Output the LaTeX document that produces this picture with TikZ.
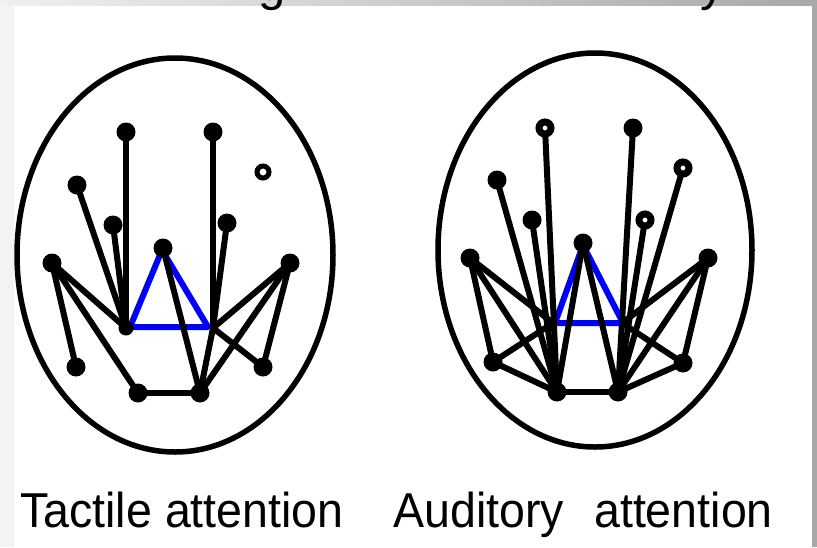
\documentclass[tikz,border=0pt]{standalone}
\usepackage{fontspec}
\setmainfont{Liberation Sans}
\definecolor{frameL}{HTML}{F3F3F3}
\definecolor{frameTL}{HTML}{F0F0F0}
\definecolor{frameTR}{HTML}{A8A8A8}
\definecolor{pureblue}{HTML}{0000FF}
\begin{document}
\begin{tikzpicture}[x=1pt,y=-1pt,
 edge/.style={line width=6pt, line cap=round, line join=round},
 tri/.style={draw=pureblue, line width=6pt, line join=round},
 dot/.style={circle, fill=black, inner sep=0pt, minimum size=19pt},
 sdot/.style={circle, fill=black, inner sep=0pt, minimum size=15pt},
 hdot/.style={circle, draw=black, fill=white, line width=7pt, inner sep=0pt, minimum size=12pt},
 ring/.style={circle, draw=black, fill=white, line width=5pt, inner sep=0pt, minimum size=12pt},
 head/.style={draw=black, line width=5.5pt},
 lbl/.style={font=\fontsize{49}{55}\selectfont, inner sep=0pt, anchor=base west}]
\useasboundingbox (0,0) rectangle (817,547);
\fill[white] (0,0) rectangle (817,547);
\fill[frameL] (0,0) rectangle (14,547);
\shade[left color=frameTL, right color=frameTR] (0,0) rectangle (817,5);
\fill[frameTR] (812,0) rectangle (817,547);
% clipped title descenders
\begin{scope}
\clip (0,0) rectangle (817,547);
\node[lbl] (tg) at (258,0) {g};
\node[lbl] (ty) at (700,0) {y};
\end{scope}

% ===== left head =====
\draw[head] (175,255) ellipse [x radius=158pt, y radius=197pt];
\coordinate (LA1) at (126,132);
\coordinate (LA2) at (213,132);
\coordinate (LB) at (77,185);
\coordinate (LC) at (113,225);
\coordinate (LD) at (227,223);
\coordinate (LE) at (163,248);
\coordinate (LF) at (52,263);
\coordinate (LG) at (290,263);
\coordinate (LH) at (126,328);
\coordinate (LI) at (213,328);
\coordinate (LJ) at (76,367);
\coordinate (LK) at (263,367);
\coordinate (LL) at (138,393);
\coordinate (LM) at (200,393);
\coordinate (LT1) at (162,250);
\coordinate (LT2) at (130,327);
\coordinate (LT3) at (208,327);
\draw[tri] (LT1) -- (LT2) -- (LT3) -- cycle;
\draw[edge] (LA1) -- (LH);
\draw[edge] (LB) -- (LH);
\draw[edge] (LC) -- (LH);
\draw[edge] (LF) -- (LH);
\draw[edge] (LF) -- (LJ);
\draw[edge] (LF) -- (LL);
\draw[edge] (LL) -- (LM);
\draw[edge] (LE) -- (LM);
\draw[edge] (LA2) -- (LI);
\draw[edge] (LD) -- (LI);
\draw[edge] (LI) -- (LM);
\draw[edge] (LG) -- (LI);
\draw[edge] (LG) -- (LM);
\draw[edge] (LG) -- (LK);
\draw[edge] (LK) -- (LI);
\foreach \n in {LA1,LA2,LB,LC,LD,LE,LF,LG,LJ,LK,LL,LM}{\node[dot] (d\n) at (\n) {};}
\node[sdot] (dLH) at (LH) {};
\node[ring] (LO) at (263,172) {};

% ===== right head =====
\draw[head] (595,250) ellipse [x radius=157pt, y radius=197pt];
\coordinate (Ra1) at (545,128);
\coordinate (Ra2) at (633,128);
\coordinate (Rb) at (497,180);
\coordinate (Rb2) at (683,168);
\coordinate (Rc) at (532,220);
\coordinate (Rd) at (645,220);
\coordinate (Re) at (583,243);
\coordinate (Rf) at (470,258);
\coordinate (Rg) at (708,258);
\coordinate (Rh) at (553,323);
\coordinate (Ri) at (622,323);
\coordinate (Rj) at (493,362);
\coordinate (Rk) at (683,363);
\coordinate (Rl) at (557,392);
\coordinate (Rm) at (618,392);
\coordinate (RT1) at (583,245);
\coordinate (RT2) at (555,323);
\coordinate (RT3) at (623,323);
\draw[tri] (RT1) -- (RT2) -- (RT3) -- cycle;
\draw[edge] (Ra1) -- (Rl);
\draw[edge] (Ra2) -- (Rm);
\draw[edge] (Rb) -- (Rl);
\draw[edge] (Rc) -- (Rl);
\draw[edge] (Rb2) -- (Rm);
\draw[edge] (Rd) -- (Rm);
\draw[edge] (Re) -- (Rl);
\draw[edge] (Re) -- (Rm);
\draw[edge] (Rl) -- (Rm);
\draw[edge] (Rf) -- (Rl);
\draw[edge] (Rf) -- (Rj);
\draw[edge] (Rf) -- (Rh);
\draw[edge] (Rj) -- (Rl);
\draw[edge] (Rj) -- (Rh);
\draw[edge] (Rg) -- (Rm);
\draw[edge] (Rg) -- (Rk);
\draw[edge] (Rg) -- (Ri);
\draw[edge] (Rk) -- (Rm);
\draw[edge] (Rk) -- (Ri);
\foreach \n in {Ra2,Rb,Rc,Re,Rf,Rg,Rj,Rk,Rl,Rm}{\node[dot] (d\n) at (\n) {};}
\foreach \n in {Ra1,Rb2,Rd}{\node[hdot] (d\n) at (\n) {};}

% ===== labels =====
\node[lbl] (lab1) at (20,527) {\scalebox{0.95}[1]{Tactile attention}};
\node[lbl] (lab2) at (393,527) {\scalebox{0.95}[1]{Auditory}};
\node[lbl] (lab3) at (594,527) {\scalebox{0.95}[1]{attention}};
\end{tikzpicture}
\end{document}
